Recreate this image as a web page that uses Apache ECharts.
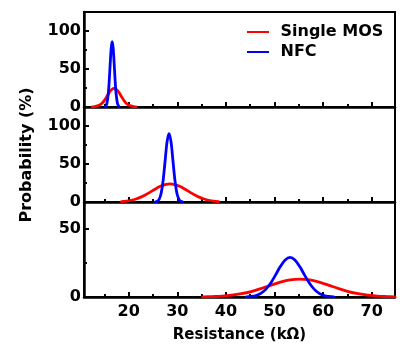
<!DOCTYPE html>
<html>
<head>
<meta charset="utf-8">
<script src="https://cdn.jsdelivr.net/npm/echarts@6/dist/echarts.min.js"></script>
<style>html,body{margin:0;padding:0;background:#fff}#c{width:400px;height:350px}</style>
</head>
<body>
<div id="c"></div>
<script>
// ---- Data ----
const seriesNames = ['Single MOS', 'NFC'];
const xTickLabels = [20, 30, 40, 50, 60, 70];
const xMinorTicks = [15, 25, 35, 45, 55, 65];

// Panel 1
const p1MosX = [12.5, 13, 14, 14.5, 15, 15.5, 16, 16.5, 17, 17.5, 18, 18.5, 19, 19.5, 20, 21, 21.5];
const p1MosY = [0.1, 0.4, 2.5, 5.0, 8.8, 13.8, 19.0, 23.0, 24.5, 23.0, 19.0, 13.8, 8.8, 5.0, 2.5, 0.4, 0.1];
const p1NfcX = [15.2, 15.5, 15.8, 16.0, 16.2, 16.4, 16.6, 16.8, 17.0, 17.2, 17.4, 17.7, 18.0];
const p1NfcY = [0.7, 4.3, 17.7, 35.4, 58, 77.9, 86, 77.9, 58, 35.4, 17.7, 4.3, 0.7];

// Panel 2
const p2MosX = [18.5, 19.5, 20.5, 21.5, 22.5, 23.5, 24.5, 25.5, 26.5, 27.5, 28.5, 29.5, 30.5, 31.5, 32.5, 33.5, 34.5, 35.5, 36.5, 37.5, 38.5];
const p2MosY = [0.6, 1.2, 2.3, 4.0, 6.4, 9.5, 13.3, 17.1, 20.6, 22.9, 23.8, 22.9, 20.6, 17.1, 13.3, 9.5, 6.4, 4.0, 2.3, 1.2, 0.6];
const p2NfcX = [25.5, 25.9, 26.3, 26.7, 27.1, 27.5, 27.9, 28.3, 28.7, 29.1, 29.5, 29.9, 30.3, 30.7, 31.1];
const p2NfcY = [0.2, 1.0, 4.0, 12.2, 29.2, 54.6, 79.4, 90, 79.4, 54.6, 29.2, 12.2, 4.0, 1.0, 0.2];

// Panel 3
const p3MosX = [35.2, 37.2, 39.2, 41.2, 43.2, 45.2, 47.2, 49.2, 51.2, 53.2, 55.2, 57.2, 59.2, 61.2, 63.2, 65.2, 67.2, 69.2, 71.2, 73.2, 74.8];
const p3MosY = [0.1, 0.3, 0.6, 1.3, 2.4, 4.0, 6.2, 8.6, 10.9, 12.6, 13.2, 12.6, 10.9, 8.6, 6.2, 4.0, 2.4, 1.3, 0.6, 0.3, 0.15];
const p3NfcX = [44.2, 45.2, 46.2, 47.2, 48.2, 49.2, 50.2, 51.2, 52.2, 53.2, 54.2, 55.2, 56.2, 57.2, 58.2, 59.2, 60.2, 61.2, 62.2];
const p3NfcY = [0.1, 0.4, 1.1, 2.7, 5.6, 10.1, 16.1, 22.4, 27.3, 29.2, 27.3, 22.4, 16.1, 10.1, 5.6, 2.7, 1.1, 0.4, 0.1];

const yMaxes = [125, 125, 70];
const yLabelSets = [[0, 50, 100], [0, 50, 100], [0, 50]];
const yMinorSets = [[25, 75], [25, 75], [25]];

// ---- Build chart ----
const FONT = 'DejaVu Sans';
const panels = [
  [[p1MosX, p1MosY], [p1NfcX, p1NfcY]],
  [[p2MosX, p2MosY], [p2NfcX, p2NfcY]],
  [[p3MosX, p3MosY], [p3NfcX, p3NfcY]]
];
const colors = ['#ff0000', '#0000ff'];
const zip = (xs, ys) => xs.map((x, i) => [x, ys[i]]);

const grids = [], xAxes = [], yAxes = [], series = [];
const tops = [12, 107, 202];
for (let i = 0; i < 3; i++) {
  grids.push({left: 84, right: 5, top: tops[i], height: 95, show: true, borderColor: '#000', borderWidth: 2, backgroundColor: 'transparent'});
  const isLast = i === 2;
  xAxes.push({
    type: 'value', gridIndex: i, position: 'bottom', min: 10.8, max: 74.8,
    axisLine: {show: true, onZero: false, lineStyle: {color: '#000', width: 2.5}},
    axisTick: {show: true, inside: true, length: 5, customValues: xTickLabels, lineStyle: {color: '#000', width: 2}},
    axisLabel: {show: isLast, margin: 7, customValues: xTickLabels, color: '#000', fontFamily: FONT, fontWeight: 'bold', fontSize: 16},
    splitLine: {show: false},
    name: isLast ? 'Resistance (k\u03A9)' : '', nameLocation: 'middle', nameGap: 31,
    nameTextStyle: {color: '#000', fontFamily: FONT, fontWeight: 'bold', fontSize: 15}
  });
  xAxes.push({
    type: 'value', gridIndex: i, position: 'bottom', offset: 0, min: 10.8, max: 74.8,
    axisLine: {show: false, onZero: false},
    axisTick: {show: true, inside: true, length: 3, customValues: xMinorTicks, lineStyle: {color: '#000', width: 2}},
    axisLabel: {show: false}, splitLine: {show: false}
  });
  yAxes.push({
    type: 'value', gridIndex: i, position: 'left', min: 0, max: yMaxes[i],
    axisLine: {show: true, onZero: false, lineStyle: {color: '#000', width: 2.5}},
    axisTick: {show: true, inside: true, length: 5, customValues: yLabelSets[i], lineStyle: {color: '#000', width: 2}},
    axisLabel: {show: true, margin: 3, customValues: yLabelSets[i], color: '#000', fontFamily: FONT, fontWeight: 'bold', fontSize: 16},
    splitLine: {show: false}
  });
  yAxes.push({
    type: 'value', gridIndex: i, position: 'left', offset: 0, min: 0, max: yMaxes[i],
    axisLine: {show: false, onZero: false},
    axisTick: {show: true, inside: true, length: 3, customValues: yMinorSets[i], lineStyle: {color: '#000', width: 2}},
    axisLabel: {show: false}, splitLine: {show: false}
  });
  panels[i].forEach((d, k) => {
    series.push({
      type: 'line', name: seriesNames[k], xAxisIndex: i * 2, yAxisIndex: i * 2,
      data: zip(d[0], d[1]), color: colors[k], showSymbol: false, symbol: 'none',
      smooth: 0.35,
      lineStyle: {width: 2.8, color: colors[k], join: 'round', cap: 'round'}, z: 3
    });
  });
}

const chart = echarts.init(document.getElementById('c'), null, {renderer: 'canvas'});
chart.setOption({
  animation: false,
  backgroundColor: '#fff',
  grid: grids, xAxis: xAxes, yAxis: yAxes, series: series,
  legend: {
    data: seriesNames, orient: 'vertical', left: 242, top: 19,
    icon: 'rect', itemWidth: 22, itemHeight: 2, itemGap: 4,
    textStyle: {color: '#000', fontFamily: FONT, fontWeight: 'bold', fontSize: 16, lineHeight: 16, padding: [0, 0, 0, 6.5]}
  },
  graphic: [{
    type: 'text', x: 27, y: 155, rotation: Math.PI / 2,
    style: {text: 'Probability (%)', fill: '#000', font: 'bold 16px "DejaVu Sans"', textAlign: 'center', textVerticalAlign: 'middle'}
  }]
});
</script>
</body>
</html>
